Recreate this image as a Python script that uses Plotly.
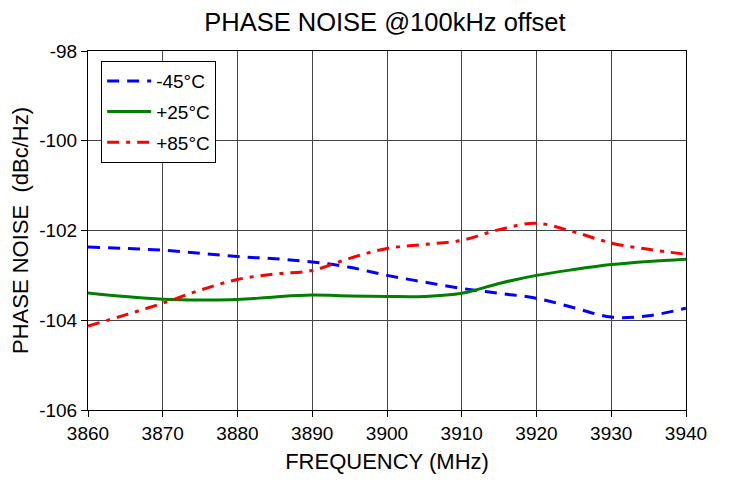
import plotly.graph_objects as go

freq = [3860, 3865, 3870, 3875, 3880, 3885, 3890, 3895, 3900, 3905, 3910, 3915, 3920, 3925, 3930, 3935, 3940]
t_m45 = [-102.37, -102.40, -102.44, -102.51, -102.58, -102.63, -102.70, -102.82, -103.00, -103.15, -103.29, -103.40, -103.51, -103.72, -103.93, -103.90, -103.73]
t_p25 = [-103.39, -103.47, -103.53, -103.55, -103.54, -103.48, -103.44, -103.46, -103.47, -103.47, -103.40, -103.18, -103.00, -102.87, -102.76, -102.69, -102.64]
t_p85 = [-104.13, -103.88, -103.62, -103.33, -103.09, -102.97, -102.89, -102.62, -102.40, -102.31, -102.22, -101.98, -101.84, -102.03, -102.28, -102.42, -102.53]

y_ticks = [-106, -104, -102, -100, -98]
y_tick_labels = ["-106", "-104", "-102", "-100", "-98"]

names = ["-45°C", "+25°C", "+85°C"]
colors = ["#0000ff", "#008000", "#ff0000"]
dashes = ["12px,8px", "solid", "12px,7px,4px,7px"]

fig = go.Figure()
for ys, n, c, d in zip([t_m45, t_p25, t_p85], names, colors, dashes):
    fig.add_trace(go.Scatter(x=freq, y=ys, name=n, mode="lines", legendgroup=n,
                             line=dict(color=c, width=3, dash=d, shape="spline", smoothing=1.0)))

fig.update_layout(
    width=729, height=485,
    margin=dict(l=80, r=51, t=43, b=83, autoexpand=False),
    paper_bgcolor="white", plot_bgcolor="white",
    font=dict(family="Liberation Sans, Arial, sans-serif", color="black", size=19),
    title=dict(text="PHASE NOISE @100kHz offset", x=0.517, xanchor="center", y=0.97, yanchor="middle",
               font=dict(size=25.5)),
    showlegend=True,
    legend=dict(x=0.022, y=0.972, xanchor="left", yanchor="top",
                bordercolor="black", borderwidth=1, bgcolor="white",
                font=dict(size=19), tracegroupgap=3, itemwidth=44),
)
fig.update_xaxes(range=[3860, 3940], dtick=10, tick0=3860, showgrid=True, gridcolor="#444444", gridwidth=1,
                 showline=True, linecolor="black", linewidth=1, mirror=True, automargin=False,
                 ticks="outside", ticklen=6, tickcolor="black",
                 title=dict(text="FREQUENCY (MHz)", font=dict(size=22), standoff=10), zeroline=False)
fig.update_yaxes(range=[-106, -98], tickvals=y_ticks, ticktext=y_tick_labels, showgrid=True,
                 gridcolor="#444444", gridwidth=1, automargin=False,
                 showline=True, linecolor="black", linewidth=1, mirror=True,
                 ticks="outside", ticklen=6, tickcolor="black",
                 title=dict(text="PHASE NOISE  (dBc/Hz)", font=dict(size=22), standoff=4), zeroline=False)

fig.write_html("out.html")
